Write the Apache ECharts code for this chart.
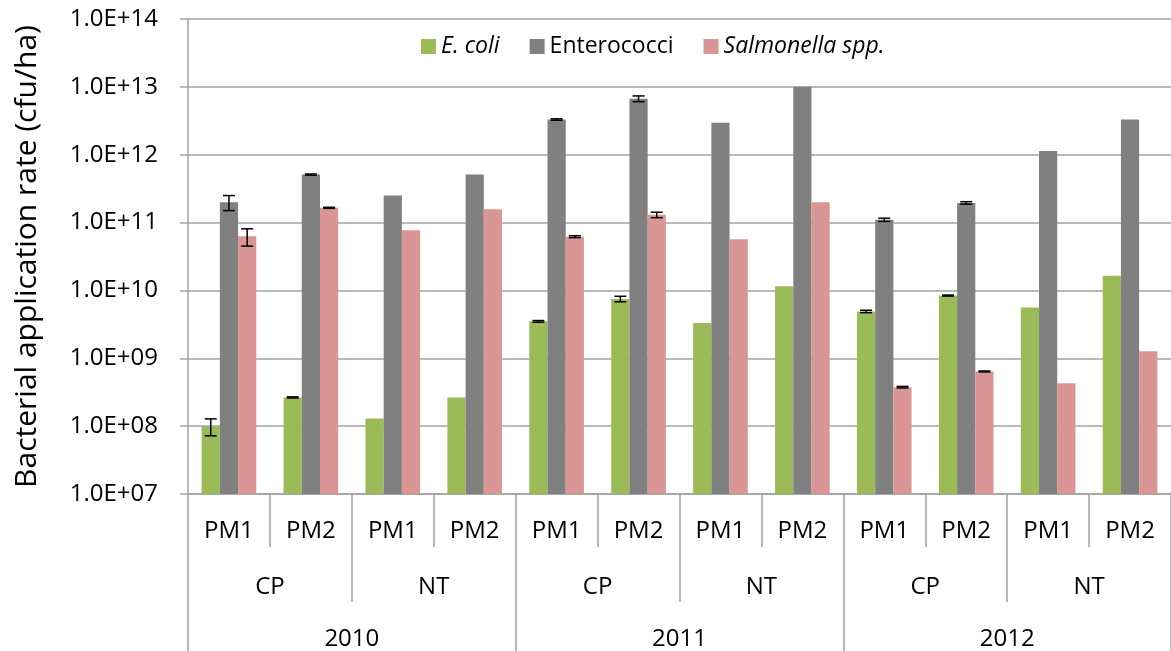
<!DOCTYPE html>
<html>
<head>
<meta charset="utf-8">
<script src="https://cdn.jsdelivr.net/npm/echarts@6/dist/echarts.min.js"></script>
<style>
  html, body { margin: 0; padding: 0; background: #fff; }
  #chart { width: 1171px; height: 651px; }
</style>
</head>
<body>
<div id="chart"></div>
<script>
const FONT = "Open Sans";
const LINE = "#a3a3a3";

// category levels (inner -> outer)
const pmLabels   = ["PM1", "PM2", "PM1", "PM2", "PM1", "PM2", "PM1", "PM2", "PM1", "PM2", "PM1", "PM2"];
const tillLabels = ["CP", "NT", "CP", "NT", "CP", "NT"];
const yearLabels = ["2010", "2011", "2012"];

const yTickLabels = ["1.0E+07", "1.0E+08", "1.0E+09", "1.0E+10", "1.0E+11", "1.0E+12", "1.0E+13", "1.0E+14"];

// cfu/ha
const ecoli       = [1.0e8, 2.65e8, 1.3e8, 2.65e8, 3.5e9, 7.5e9, 3.3e9, 1.15e10, 4.9e9, 8.4e9, 5.6e9, 1.65e10];
const enterococci = [2.0e11, 5.1e11, 2.5e11, 5.1e11, 3.3e12, 6.7e12, 2.95e12, 1.0e13, 1.1e11, 1.95e11, 1.13e12, 3.3e12];
const salmonella  = [6.3e10, 1.65e11, 7.7e10, 1.57e11, 6.2e10, 1.3e11, 5.7e10, 2.0e11, 3.75e8, 6.4e8, 4.3e8, 1.27e9];

// +/- error (only CP plots have them)
const ecoliErr       = [0.28e8, 0.05e8, null, null, 0.1e9, 0.7e9, null, null, 0.2e9, 0.15e9, null, null];
const enterococciErr = [0.5e11, 0.1e11, null, null, 0.08e12, 0.65e12, null, null, 0.06e11, 0.08e11, null, null];
const salmonellaErr  = [1.8e10, 0.03e11, null, null, 0.2e10, 0.12e11, null, null, 0.1e8, 0.1e8, null, null];

const colors = ["#9bbb59", "#808080", "#d99694"];
const CAT_GAP = 0.333;

function errData(vals, errs) {
  const out = [];
  vals.forEach((v, i) => {
    if (errs[i] != null) out.push([i, v - errs[i], v + errs[i]]);
  });
  return out;
}

function errSeries(name, vals, errs, k) {
  return {
    name: name + " err",
    type: "custom",
    xAxisIndex: 0,
    z: 10,
    silent: true,
    data: errData(vals, errs),
    renderItem: (params, api) => {
      const x = api.value(0);
      const lo = api.coord([x, api.value(1)]);
      const hi = api.coord([x, api.value(2)]);
      const band = api.size([1, 0])[0];
      const barW = band * (1 - CAT_GAP) / 3;
      const cx = lo[0] + (k - 1) * barW;
      const cap = 6;
      const style = { stroke: "#000", lineWidth: 1.5 };
      return {
        type: "group",
        children: [
          { type: "line", shape: { x1: cx, y1: lo[1], x2: cx, y2: hi[1] }, style },
          { type: "line", shape: { x1: cx - cap, y1: lo[1], x2: cx + cap, y2: lo[1] }, style },
          { type: "line", shape: { x1: cx - cap, y1: hi[1], x2: cx + cap, y2: hi[1] }, style },
        ],
      };
    },
  };
}

function barSeries(name, vals, color) {
  return {
    name,
    type: "bar",
    xAxisIndex: 0,
    data: vals,
    barGap: "0%",
    barCategoryGap: (CAT_GAP * 100) + "%",
    itemStyle: { color },
  };
}

function levelAxis(data, tickLen, labelMargin, showLine) {
  return {
    type: "category",
    gridIndex: 0,
    position: "bottom",
    data,
    axisLine: { show: showLine, lineStyle: { color: LINE, width: 1.5 } },
    axisTick: { show: true, interval: 0, length: tickLen, lineStyle: { color: LINE, width: 1.5 } },
    axisLabel: { interval: 0, margin: labelMargin, color: "#000", fontFamily: FONT, fontSize: 24 },
    splitLine: { show: false },
  };
}

const chart = echarts.init(document.getElementById("chart"), null, { renderer: "canvas" });

chart.setOption({
  animation: false,
  backgroundColor: "#fff",
  textStyle: { fontFamily: FONT },
  grid: { left: 188, top: 19, width: 990, height: 476, containLabel: false },
  legend: {
    data: ["E. coli", "Enterococci", "Salmonella spp."],
    top: 35,
    left: 421,
    padding: 0,
    itemWidth: 15,
    itemHeight: 15,
    itemGap: 30,
    icon: "rect",
    formatter: (n) => (n === "Enterococci" ? n : "{i|" + n + "}"),
    textStyle: {
      color: "#000",
      fontFamily: FONT,
      fontSize: 23,
      rich: { i: { fontStyle: "italic", fontFamily: FONT, fontSize: 23, color: "#000" } },
    },
  },
  xAxis: [
    levelAxis(pmLabels, 53, 25, true),
    levelAxis(tillLabels, 108, 81, false),
    levelAxis(yearLabels, 160, 133, false),
  ],
  yAxis: {
    type: "log",
    logBase: 10,
    min: 1e7,
    max: 1e14,
    splitNumber: 7,
    name: "Bacterial application rate (cfu/ha)",
    nameLocation: "middle",
    nameGap: 146,
    nameTextStyle: { color: "#000", fontFamily: FONT, fontSize: 30 },
    axisLine: { show: true, lineStyle: { color: LINE, width: 1.5 } },
    axisTick: { show: true, length: 8, lineStyle: { color: LINE, width: 1.5 } },
    axisLabel: {
      margin: 30,
      color: "#000",
      fontFamily: FONT,
      fontSize: 24,
      formatter: (v) => yTickLabels[Math.round(Math.log10(v)) - 7] || "",
    },
    splitLine: { show: true, lineStyle: { color: LINE, width: 1.5 } },
  },
  series: [
    barSeries("E. coli", ecoli, colors[0]),
    barSeries("Enterococci", enterococci, colors[1]),
    barSeries("Salmonella spp.", salmonella, colors[2]),
    errSeries("E. coli", ecoli, ecoliErr, 0),
    errSeries("Enterococci", enterococci, enterococciErr, 1),
    errSeries("Salmonella spp.", salmonella, salmonellaErr, 2),
  ],
});
</script>
</body>
</html>
